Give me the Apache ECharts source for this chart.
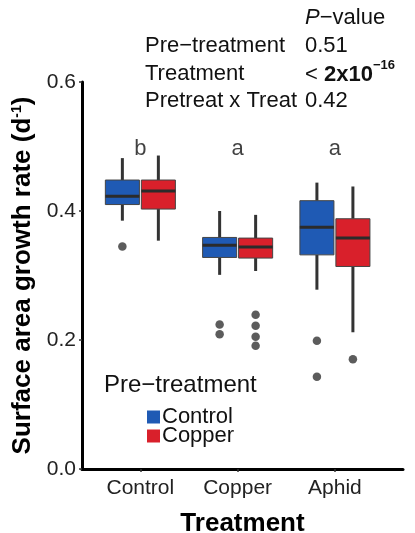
<!DOCTYPE html>
<html>
<head>
<meta charset="utf-8">
<script src="https://cdn.jsdelivr.net/npm/echarts@6/dist/echarts.min.js"></script>
<style>html,body{margin:0;padding:0;background:#fff}#c{width:415px;height:533px}</style>
</head>
<body>
<div id="c"></div>
<script>
// Data
const categories = ['Control', 'Copper', 'Aphid'];
const groups = ['Control', 'Copper'];
const groupColors = ['#1f5ab4', '#d9202b'];
// [lowWhisker, Q1, median, Q3, highWhisker] per treatment category
const controlStats = [
  [0.385, 0.410, 0.423, 0.448, 0.482],
  [0.301, 0.328, 0.347, 0.359, 0.400],
  [0.278, 0.332, 0.375, 0.416, 0.444]
];
const copperStats = [
  [0.354, 0.403, 0.431, 0.448, 0.486],
  [0.307, 0.327, 0.344, 0.358, 0.394],
  [0.212, 0.314, 0.358, 0.388, 0.438]
];
// outliers: [categoryIndex, value]
const controlOutliers = [[0, 0.345], [1, 0.224], [1, 0.209], [2, 0.199], [2, 0.143]];
const copperOutliers = [[1, 0.239], [1, 0.222], [1, 0.205], [1, 0.191], [2, 0.170]];
const letters = ['b', 'a', 'a'];
const letterY = 0.496;
const yTicks = [0, 0.2, 0.4, 0.6];

const dodge = 0.185, boxW = 0.35;
const statsByGroup = [controlStats, copperStats];
const outByGroup = [controlOutliers, copperOutliers];

function boxRender(gi) {
  return function (params, api) {
    const xc = api.value(0) + (gi === 0 ? -dodge : dodge);
    const lo = api.coord([xc, api.value(1)]);
    const q1 = api.coord([xc, api.value(2)]);
    const md = api.coord([xc, api.value(3)]);
    const q3 = api.coord([xc, api.value(4)]);
    const hi = api.coord([xc, api.value(5)]);
    const w = api.size([boxW, 0])[0];
    const x0 = lo[0] - w / 2;
    const lineStyle = { stroke: '#333333', lineWidth: 3 };
    return {
      type: 'group',
      children: [
        { type: 'line', shape: { x1: lo[0], y1: lo[1], x2: q1[0], y2: q1[1] }, style: lineStyle },
        { type: 'line', shape: { x1: q3[0], y1: q3[1], x2: hi[0], y2: hi[1] }, style: lineStyle },
        { type: 'rect', shape: { x: x0, y: q3[1], width: w, height: q1[1] - q3[1] },
          style: { fill: groupColors[gi], stroke: '#444444', lineWidth: 1 } },
        { type: 'line', shape: { x1: x0, y1: md[1], x2: x0 + w, y2: md[1] },
          style: { stroke: '#2b2b2b', lineWidth: 3 } }
      ]
    };
  };
}

const series = [];
groups.forEach(function (g, gi) {
  series.push({
    name: g,
    type: 'custom',
    renderItem: boxRender(gi),
    itemStyle: { color: groupColors[gi] },
    encode: { x: 0, y: [1, 2, 3, 4, 5] },
    data: statsByGroup[gi].map(function (s, i) { return [i + 1].concat(s); }),
    z: 2
  });
});
groups.forEach(function (g, gi) {
  series.push({
    type: 'scatter',
    symbol: 'circle',
    symbolSize: 8.5,
    itemStyle: { color: '#333333' },
    data: outByGroup[gi].map(function (o) { return [o[0] + 1 + (gi === 0 ? -dodge : dodge), o[1]]; }),
    z: 3
  });
});
series.push({
  type: 'scatter',
  symbolSize: 0,
  silent: true,
  label: { show: true, position: 'inside', formatter: function (p) { return letters[p.dataIndex]; },
    fontSize: 22, color: '#111', fontFamily: 'Liberation Sans, Arial, sans-serif' },
  data: letters.map(function (l, i) { return [i + 1, letterY]; })
});

const FF = 'Liberation Sans, Arial, sans-serif';
const chart = echarts.init(document.getElementById('c'));
chart.setOption({
  animation: false,
  backgroundColor: '#ffffff',
  textStyle: { fontFamily: FF },
  grid: { left: 82, right: 12, top: 82, bottom: 64, outerBoundsMode: 'none', containLabel: false },
  xAxis: {
    type: 'value', min: 0.4, max: 3.7,
    name: 'Treatment', nameLocation: 'middle', nameGap: 42,
    nameTextStyle: { fontSize: 26, fontWeight: 'bold', color: '#000', fontFamily: FF },
    axisLine: { show: true, onZero: false, lineStyle: { color: '#000', width: 3 } },
    axisTick: { show: true, length: 3, customValues: [1, 2, 3], lineStyle: { color: '#333', width: 1.5 } },
    axisLabel: { customValues: [1, 2, 3], formatter: function (v) { return categories[Math.round(v) - 1]; },
      fontSize: 21, color: '#222', margin: 9, fontFamily: FF },
    splitLine: { show: false }
  },
  yAxis: {
    type: 'value', min: 0, max: 0.6, interval: 0.2,
    name: 'Surface area growth rate (d{sup|-1})', nameLocation: 'middle', nameGap: 42, nameRotate: 90,
    nameTextStyle: { fontSize: 26, fontWeight: 'bold', color: '#000', fontFamily: FF,
      rich: { sup: { fontSize: 14, fontWeight: 'bold', verticalAlign: 'top', padding: [0, 0, 11, 0], fontFamily: FF } } },
    axisLine: { show: true, lineStyle: { color: '#000', width: 3 } },
    axisTick: { show: true, length: 3, lineStyle: { color: '#333', width: 1.5 } },
    axisLabel: { formatter: function (v) { return v.toFixed(1); }, fontSize: 21, color: '#222', margin: 6, fontFamily: FF },
    splitLine: { show: false }
  },
  legend: {
    data: groups,
    orient: 'vertical', left: 142, top: 401,
    icon: 'rect', itemWidth: 13, itemHeight: 13, itemGap: -3,
    textStyle: { fontSize: 22, lineHeight: 18, color: '#111', padding: [0, 0, 0, -3], fontFamily: FF }
  },
  graphic: [
    { type: 'text', left: 104, top: 373, style: { text: 'Pre\u2212treatment', fontSize: 24, fill: '#111', fontFamily: FF } },
    { type: 'text', left: 305, top: 7, style: { text: '{i|P}\u2212value', fontSize: 22, fill: '#111', fontFamily: FF,
      rich: { i: { fontStyle: 'italic', fontSize: 22, fontFamily: FF } } } },
    { type: 'text', left: 145, top: 35, style: { text: 'Pre\u2212treatment', fontSize: 22, fill: '#111', fontFamily: FF } },
    { type: 'text', left: 305, top: 35, style: { text: '0.51', fontSize: 22, fill: '#111', fontFamily: FF } },
    { type: 'text', left: 145, top: 63, style: { text: 'Treatment', fontSize: 22, fill: '#111', fontFamily: FF } },
    { type: 'text', left: 305, top: 59, style: { text: '{n|< }{b|2x10}{s|\u221216}', fontSize: 22, fill: '#111', fontFamily: FF,
      rich: { n: { fontSize: 22, lineHeight: 27, verticalAlign: 'bottom', fontFamily: FF },
              b: { fontWeight: 'bold', fontSize: 22, lineHeight: 27, verticalAlign: 'bottom', fontFamily: FF },
              s: { fontWeight: 'bold', fontSize: 13, lineHeight: 13, verticalAlign: 'top', fontFamily: FF } } } },
    { type: 'text', left: 145, top: 90, style: { text: 'Pretreat x Treat', fontSize: 22, fill: '#111', fontFamily: FF } },
    { type: 'text', left: 305, top: 90, style: { text: '0.42', fontSize: 22, fill: '#111', fontFamily: FF } }
  ],
  series: series
});
</script>
</body>
</html>
